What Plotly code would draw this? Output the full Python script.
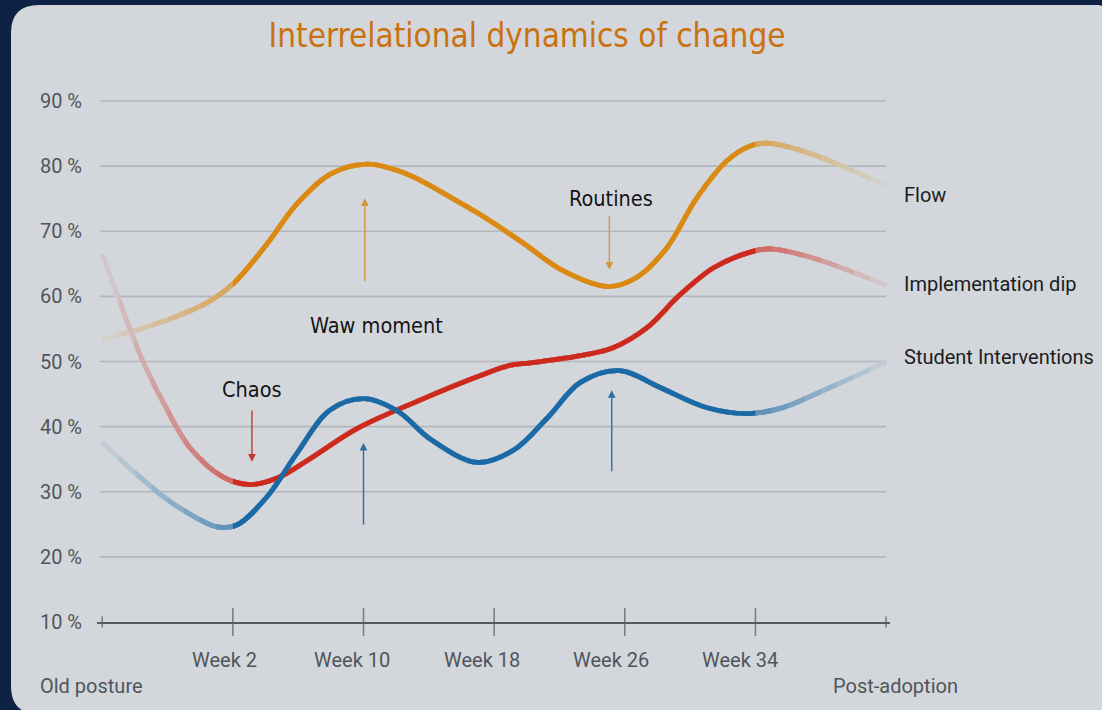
import plotly.graph_objects as go

# ---------------- data ----------------
title_text = "Interrelational dynamics of change"
series_names = ["Flow", "Implementation dip", "Student Interventions"]

x_flow = [0, 0.24, 0.54, 0.80, 1.0, 1.26, 1.49, 1.75, 2.03, 2.33, 2.72, 2.89, 3.20, 3.53,
          3.87, 4.09, 4.32, 4.55, 4.78, 4.96, 5.11, 5.44, 6.0]
flow = [53.4, 54.7, 56.7, 59.0, 61.9, 68.0, 74.2, 78.8, 80.3, 78.8, 74.6, 72.6, 68.5, 63.9,
        61.5, 62.9, 67.4, 75.1, 80.8, 83.1, 83.5, 81.8, 77.0]

x_dip = [0, 0.15, 0.31, 0.47, 0.67, 0.93, 1.13, 1.34, 1.57, 1.95, 2.46, 2.89, 3.12, 3.28,
         3.66, 3.91, 4.17, 4.42, 4.68, 4.96, 5.11, 5.44, 6.0]
dip = [66.5, 58.3, 50.1, 43.6, 36.8, 32.2, 31.1, 32.1, 34.8, 39.7, 44.3, 47.8, 49.4, 49.8,
       50.9, 52.1, 55.2, 60.2, 64.4, 66.8, 67.3, 65.9, 61.7]

x_stu = [0, 0.29, 0.54, 0.88, 1.03, 1.26, 1.49, 1.74, 2.0, 2.26, 2.51, 2.87, 3.15, 3.41,
         3.66, 3.96, 4.27, 4.63, 4.94, 5.19, 5.57, 6.0]
stu = [37.6, 32.2, 28.2, 24.6, 24.9, 29.2, 35.9, 42.5, 44.3, 42.4, 38.1, 34.5, 36.4, 41.4,
       46.8, 48.6, 46.0, 42.9, 42.0, 42.8, 46.0, 49.9]

week_pos = [1, 2, 3, 4, 5]
week_labels = ["Week 2", "Week 10", "Week 18", "Week 26", "Week 34"]
week_label_shift = [-8, -12, -12, -14, -15]
end_pos = [0, 6]
end_labels = ["Old posture", "Post-adoption"]
y_ticks = [10, 20, 30, 40, 50, 60, 70, 80, 90]
y_labels = [f"{v} %" for v in y_ticks]

notes = [("Routines", 3.895, 75.1), ("Waw moment", 2.097, 55.5), ("Chaos", 1.148, 45.7)]
# arrows: (x, tail value, tip value, colour key)
arrows = [(2.01, 62.1, 75.05, "o"), (3.882, 72.6, 64.1, "o"),
          (1.146, 42.7, 34.6, "r"), (2.0, 24.7, 37.5, "b"), (3.9, 32.9, 45.6, "b")]

# ---------------- style ----------------
NAVY = "#0d2244"
PANEL = "#d3d7dc"
COLORS = ["#da8a12", "#cd2a1d", "#1b6aa5"]
ARROW_COL = {"o": "#d3963c", "r": "#c23a2c", "b": "#2a6ea6"}
COND = "Liberation Sans Narrow, DejaVu Sans Condensed, Roboto Condensed, sans-serif"
SANS = "Roboto, Open Sans, sans-serif"
FS = 20

W, H = 1102, 710
ML, MR, MT, MB = 97, 212, 95, 88
X_RANGE = [-0.04, 6.03]
Y_RANGE = [10, 10 + (H - MT - MB) / 6.5125]


def mix(hex_c, bg, a):
    c = [int(hex_c[i:i + 2], 16) for i in (1, 3, 5)]
    b = [int(bg[i:i + 2], 16) for i in (1, 3, 5)]
    m = [round(a * c[i] + (1 - a) * b[i]) for i in range(3)]
    return "#%02x%02x%02x" % tuple(m)


fig = go.Figure()

# fade levels: full curves clipped by sub-axes whose domains cover narrower spans
n_fade = 8
levels = [(k / n_fade, 0.1 + 0.52 * k / (n_fade - 1)) for k in range(n_fade)] + [(1.0, 1.0)]
span = X_RANGE[1] - X_RANGE[0]
series = [(x_flow, flow), (x_dip, dip), (x_stu, stu)]

for k, (lo, alpha) in enumerate(levels):
    hi = 6 - lo
    axname = "x" if k == 0 else f"x{k + 1}"
    if k > 0:
        fig.layout[f"xaxis{k + 1}"] = dict(
            domain=[(lo - X_RANGE[0]) / span, (hi - X_RANGE[0]) / span],
            range=[lo, hi], anchor="y", visible=False, showgrid=False,
            zeroline=False)
    for (xs, ys), name, col in zip(series, series_names, COLORS):
        fig.add_trace(go.Scatter(
            x=xs, y=ys, mode="lines", name=name, xaxis=axname, yaxis="y",
            line=dict(color=mix(col, PANEL, alpha), width=4.8, shape="spline", smoothing=1.0),
            hoverinfo="skip", showlegend=False))

# crossing tick marks on the x axis
tick_x = end_pos[:1] + week_pos + end_pos[1:]
tick_sizes = [8] + [20] * len(week_pos) + [8]
fig.add_trace(go.Scatter(
    x=tick_x, y=[y_ticks[0]] * len(tick_x), mode="markers", cliponaxis=False,
    marker=dict(symbol="line-ns", size=tick_sizes, line=dict(color="#555a60", width=1.6)),
    hoverinfo="skip", showlegend=False))

# ---------------- panel + gridlines ----------------
pw, ph = W - ML - MR, H - MT - MB
L = (11 - ML) / pw
R = (1104 - ML) / pw
T = 1 + (MT - 5) / ph
B = -(714 - (H - MB)) / ph
rx1, ry1 = 28 / pw, 28 / ph
rx2, ry2 = 6 / pw, 6 / ph
path = (f"M {L + rx1},{T} L {R - rx2},{T} Q {R},{T} {R},{T - ry2} L {R},{B} "
        f"L {L + rx1},{B} Q {L},{B} {L},{B + ry1} L {L},{T - ry1} Q {L},{T} {L + rx1},{T} Z")
fig.add_shape(type="path", path=path, xref="paper", yref="paper",
              fillcolor=PANEL, line=dict(width=0), layer="below")

for v in y_ticks[1:]:
    fig.add_shape(type="line", xref="x domain", yref="y", x0=0.004, x1=0.995, y0=v, y1=v,
                  line=dict(color="#b3b7bd", width=1.6), layer="below")

# ---------------- annotations ----------------
ann = []
for (txt, x, y) in notes:
    ann.append(dict(x=x, y=y, xref="x", yref="y", text=txt, showarrow=False,
                    font=dict(family=COND, size=21.5, color="#141414")))
for (x, tail, tip, ck) in arrows:
    ann.append(dict(x=x, y=tip, ax=x, ay=tail, xref="x", yref="y", axref="x", ayref="y",
                    text="", showarrow=True, arrowhead=2, arrowsize=1.1, arrowwidth=1.4,
                    arrowcolor=ARROW_COL[ck], standoff=0, startstandoff=0))
ends = [flow[-1], dip[-1], stu[-1]]
shifts = [-9, 1, 5]
for name, v, s in zip(series_names, ends, shifts):
    ann.append(dict(x=6, y=v, xref="x", yref="y", text=name, showarrow=False,
                    xanchor="left", xshift=16, yshift=s,
                    font=dict(family=SANS, size=FS, color="#1c1c1c")))
for txt, x, xs in zip(week_labels, week_pos, week_label_shift):
    ann.append(dict(x=x, y=0, xref="x", yref="paper", text=txt, showarrow=False,
                    yanchor="middle", xshift=xs, yshift=-38,
                    font=dict(family=SANS, size=FS, color="#50555b")))
for txt, x, xs in zip(end_labels, end_pos, [-11, 9]):
    ann.append(dict(x=x, y=0, xref="x", yref="paper", text=txt, showarrow=False,
                    yanchor="middle", xshift=xs, yshift=-64,
                    font=dict(family=SANS, size=FS, color="#50555b")))

fig.update_layout(
    width=W, height=H,
    margin=dict(l=ML, r=MR, t=MT, b=MB, pad=0),
    paper_bgcolor=NAVY, plot_bgcolor="rgba(0,0,0,0)",
    title=dict(text=title_text, x=527 / W, xanchor="center", y=1 - 35 / H, yanchor="middle",
               font=dict(family=COND, size=33, color="#c9720f")),
    annotations=ann,
    showlegend=False,
    xaxis=dict(range=X_RANGE, showgrid=False, zeroline=False, showline=True,
               linecolor="#555a60", linewidth=2, tickvals=week_pos, showticklabels=False,
               ticks=""),
    yaxis=dict(range=Y_RANGE, showgrid=False, zeroline=False, showline=False,
               tickvals=y_ticks, ticktext=y_labels, ticks="", ticklabelstandoff=14,
               tickfont=dict(family=SANS, size=FS, color="#50555b")),
)

fig.write_html("out.html", config={"displayModeBar": False},
               post_script="document.body.style.margin='0px';")
